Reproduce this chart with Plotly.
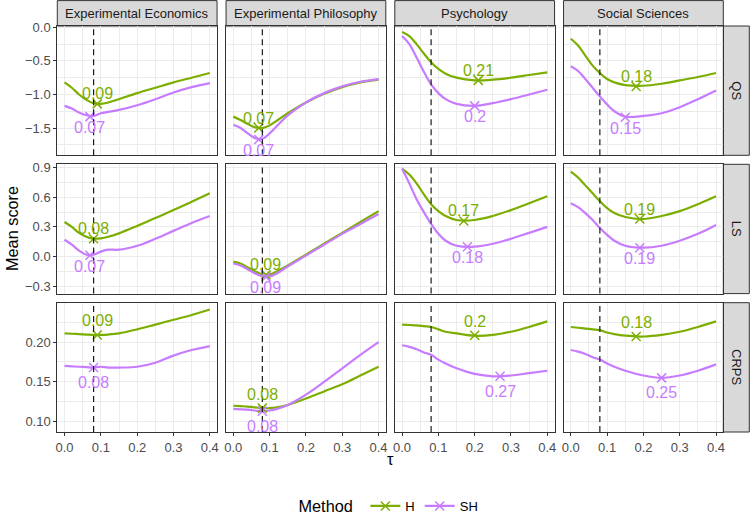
import plotly.graph_objects as go

# ---------------- data ----------------
FIELDS = ["Experimental Economics", "Experimental Philosophy", "Psychology", "Social Sciences"]
SCORES = ["QS", "LS", "CRPS"]
METHODS = ["H", "SH"]
COLORS = {"H": "#7CAE00", "SH": "#C77CFF"}
TAU = [0.0, 0.02, 0.04, 0.06, 0.08, 0.10, 0.12, 0.15, 0.20, 0.25, 0.30, 0.35, 0.40]
TAU_REF = 0.08

# QS (rows: fields)
QS_EE_H = [-0.82, -0.90, -1.00, -1.08, -1.13, -1.14, -1.12, -1.07, -0.98, -0.90, -0.82, -0.75, -0.68]
QS_EE_SH = [-1.17, -1.21, -1.27, -1.31, -1.32, -1.28, -1.26, -1.23, -1.16, -1.07, -0.97, -0.89, -0.83]
QS_EP_H = [-1.33, -1.38, -1.44, -1.49, -1.50, -1.46, -1.39, -1.28, -1.12, -0.99, -0.89, -0.82, -0.78]
QS_EP_SH = [-1.45, -1.50, -1.58, -1.65, -1.66, -1.58, -1.47, -1.31, -1.12, -0.98, -0.88, -0.81, -0.77]
QS_PS_H = [-0.07, -0.13, -0.25, -0.39, -0.52, -0.62, -0.69, -0.75, -0.79, -0.78, -0.75, -0.71, -0.67]
QS_PS_SH = [-0.13, -0.25, -0.45, -0.66, -0.85, -0.98, -1.07, -1.14, -1.17, -1.13, -1.07, -1.00, -0.93]
QS_SS_H = [-0.17, -0.27, -0.42, -0.57, -0.68, -0.77, -0.82, -0.86, -0.87, -0.84, -0.79, -0.74, -0.68]
QS_SS_SH = [-0.58, -0.65, -0.77, -0.90, -1.03, -1.15, -1.25, -1.33, -1.32, -1.28, -1.19, -1.07, -0.94]

# LS
LS_EE_H = [0.35, 0.30, 0.24, 0.20, 0.18, 0.185, 0.20, 0.235, 0.31, 0.39, 0.47, 0.555, 0.64]
LS_EE_SH = [0.17, 0.12, 0.06, 0.02, 0.02, 0.05, 0.07, 0.07, 0.11, 0.18, 0.26, 0.34, 0.41]
LS_EP_H = [-0.05, -0.07, -0.11, -0.15, -0.18, -0.18, -0.15, -0.09, 0.02, 0.13, 0.24, 0.35, 0.46]
LS_EP_SH = [-0.07, -0.09, -0.13, -0.17, -0.20, -0.20, -0.17, -0.10, 0.01, 0.12, 0.23, 0.33, 0.43]
LS_PS_H = [0.89, 0.83, 0.74, 0.63, 0.53, 0.46, 0.41, 0.37, 0.37, 0.41, 0.47, 0.54, 0.61]
LS_PS_SH = [0.89, 0.74, 0.58, 0.45, 0.33, 0.23, 0.16, 0.11, 0.10, 0.13, 0.18, 0.24, 0.30]
LS_SS_H = [0.86, 0.80, 0.72, 0.64, 0.56, 0.49, 0.44, 0.40, 0.38, 0.41, 0.46, 0.53, 0.61]
LS_SS_SH = [0.54, 0.50, 0.44, 0.37, 0.29, 0.22, 0.16, 0.11, 0.09, 0.11, 0.16, 0.23, 0.32]

# CRPS
CRPS_EE_H = [0.211, 0.2105, 0.210, 0.2095, 0.209, 0.209, 0.2095, 0.211, 0.216, 0.222, 0.228, 0.234, 0.241]
CRPS_EE_SH = [0.170, 0.1695, 0.169, 0.1685, 0.168, 0.169, 0.168, 0.168, 0.169, 0.174, 0.183, 0.190, 0.195]
CRPS_EP_H = [0.120, 0.1195, 0.119, 0.118, 0.117, 0.117, 0.118, 0.121, 0.129, 0.138, 0.147, 0.158, 0.169]
CRPS_EP_SH = [0.116, 0.1155, 0.115, 0.114, 0.113, 0.114, 0.116, 0.121, 0.134, 0.150, 0.167, 0.184, 0.200]
CRPS_PS_H = [0.222, 0.2215, 0.221, 0.220, 0.219, 0.216, 0.213, 0.211, 0.208, 0.209, 0.213, 0.219, 0.226]
CRPS_PS_SH = [0.196, 0.194, 0.191, 0.187, 0.184, 0.178, 0.173, 0.167, 0.160, 0.157, 0.158, 0.161, 0.164]
CRPS_SS_H = [0.219, 0.218, 0.217, 0.216, 0.215, 0.212, 0.210, 0.208, 0.207, 0.209, 0.213, 0.219, 0.226]
CRPS_SS_SH = [0.190, 0.188, 0.185, 0.181, 0.178, 0.173, 0.169, 0.164, 0.158, 0.155, 0.158, 0.164, 0.172]

# minimising tau and the score there (per field, in FIELDS order)
QS_MIN_TAU_H = [0.09, 0.07, 0.21, 0.18]
QS_MIN_VAL_H = [-1.14, -1.50, -0.79, -0.88]
QS_MIN_TAU_SH = [0.07, 0.07, 0.20, 0.15]
QS_MIN_VAL_SH = [-1.33, -1.67, -1.17, -1.34]
LS_MIN_TAU_H = [0.08, 0.09, 0.17, 0.19]
LS_MIN_VAL_H = [0.18, -0.185, 0.36, 0.38]
LS_MIN_TAU_SH = [0.07, 0.09, 0.18, 0.19]
LS_MIN_VAL_SH = [0.013, -0.205, 0.10, 0.09]
CRPS_MIN_TAU_H = [0.09, 0.08, 0.20, 0.18]
CRPS_MIN_VAL_H = [0.209, 0.117, 0.2085, 0.207]
CRPS_MIN_TAU_SH = [0.08, 0.08, 0.27, 0.25]
CRPS_MIN_VAL_SH = [0.168, 0.113, 0.157, 0.155]

X_TICKS = [0.0, 0.1, 0.2, 0.3, 0.4]
X_TICKTEXT = ["0.0", "0.1", "0.2", "0.3", "0.4"]
Y_TICKS = {
    "QS": [0.0, -0.5, -1.0, -1.5],
    "LS": [0.9, 0.6, 0.3, 0.0, -0.3],
    "CRPS": [0.10, 0.15, 0.20],
}
Y_TICKTEXT = {
    "QS": ["0.0", "\u22120.5", "\u22121.0", "\u22121.5"],
    "LS": ["0.9", "0.6", "0.3", "0.0", "\u22120.3"],
    "CRPS": ["0.10", "0.15", "0.20"],
}

SERIES = {
    ("QS", 0, "H"): QS_EE_H, ("QS", 0, "SH"): QS_EE_SH,
    ("QS", 1, "H"): QS_EP_H, ("QS", 1, "SH"): QS_EP_SH,
    ("QS", 2, "H"): QS_PS_H, ("QS", 2, "SH"): QS_PS_SH,
    ("QS", 3, "H"): QS_SS_H, ("QS", 3, "SH"): QS_SS_SH,
    ("LS", 0, "H"): LS_EE_H, ("LS", 0, "SH"): LS_EE_SH,
    ("LS", 1, "H"): LS_EP_H, ("LS", 1, "SH"): LS_EP_SH,
    ("LS", 2, "H"): LS_PS_H, ("LS", 2, "SH"): LS_PS_SH,
    ("LS", 3, "H"): LS_SS_H, ("LS", 3, "SH"): LS_SS_SH,
    ("CRPS", 0, "H"): CRPS_EE_H, ("CRPS", 0, "SH"): CRPS_EE_SH,
    ("CRPS", 1, "H"): CRPS_EP_H, ("CRPS", 1, "SH"): CRPS_EP_SH,
    ("CRPS", 2, "H"): CRPS_PS_H, ("CRPS", 2, "SH"): CRPS_PS_SH,
    ("CRPS", 3, "H"): CRPS_SS_H, ("CRPS", 3, "SH"): CRPS_SS_SH,
}
MINS = {
    ("QS", "H"): (QS_MIN_TAU_H, QS_MIN_VAL_H), ("QS", "SH"): (QS_MIN_TAU_SH, QS_MIN_VAL_SH),
    ("LS", "H"): (LS_MIN_TAU_H, LS_MIN_VAL_H), ("LS", "SH"): (LS_MIN_TAU_SH, LS_MIN_VAL_SH),
    ("CRPS", "H"): (CRPS_MIN_TAU_H, CRPS_MIN_VAL_H), ("CRPS", "SH"): (CRPS_MIN_TAU_SH, CRPS_MIN_VAL_SH),
}

# ---------------- layout geometry ----------------
W, H = 750, 516
FONT = "Liberation Sans, Arial, Helvetica, sans-serif"
COL_L = [57.3, 226.05, 394.8, 563.55]
COL_W = 159.75
ROW_T = [26.0, 164.3, 302.7]
ROW_H = 129.3
STRIP_R = (723.3, 749.3)
Y_RANGE = {"QS": [-1.906, 0.02], "LS": [-0.374, 0.933], "CRPS": [0.087, 0.2495]}
Y_MINOR = {"QS": 0.25, "LS": 0.15, "CRPS": 0.025}
LABEL_SHIFT = {"QS": (10, -11), "LS": (10, -11), "CRPS": (14, -15)}

fx = lambda p: p / W
fy = lambda p: 1 - p / H

fig = go.Figure()
layout = dict(
    template="none",
    width=W, height=H, autosize=False,
    margin=dict(l=0, r=0, t=0, b=0, pad=0, autoexpand=False),
    paper_bgcolor="white", plot_bgcolor="white",
    font=dict(family=FONT, size=13, color="#1A1A1A"),
    showlegend=True,
)
shapes, annotations = [], []

for r, score in enumerate(SCORES):
    for c, field in enumerate(FIELDS):
        i = r * 4 + c + 1
        xs = "" if i == 1 else str(i)
        xa, ya = "x" + xs, "y" + xs
        layout["xaxis" + xs] = dict(
            domain=[fx(COL_L[c]), fx(COL_L[c] + COL_W)],
            anchor=ya, range=[-0.02, 0.42], automargin=False,
            tickvals=X_TICKS, ticktext=X_TICKTEXT,
            showticklabels=(r == 2), ticks="outside" if r == 2 else "",
            ticklen=3, tickwidth=1, tickcolor="#333333",
            tickfont=dict(size=13, color="#4D4D4D"),
            showgrid=True, gridcolor="#EBEBEB", gridwidth=1.1,
            minor=dict(dtick=0.05, tick0=0, showgrid=True, gridcolor="#EBEBEB", gridwidth=0.55, ticks=""),
            showline=True, linecolor="#333333", linewidth=1, mirror=True,
            zeroline=False,
        )
        layout["yaxis" + xs] = dict(
            domain=[fy(ROW_T[r] + ROW_H), fy(ROW_T[r])],
            anchor=xa, range=Y_RANGE[score], automargin=False,
            tickvals=Y_TICKS[score], ticktext=Y_TICKTEXT[score],
            showticklabels=(c == 0), ticks="outside" if c == 0 else "",
            ticklen=3, tickwidth=1, tickcolor="#333333",
            tickfont=dict(size=13, color="#4D4D4D"),
            showgrid=True, gridcolor="#EBEBEB", gridwidth=1.1,
            minor=dict(dtick=Y_MINOR[score], tick0=0, showgrid=True, gridcolor="#EBEBEB", gridwidth=0.55, ticks=""),
            showline=True, linecolor="#333333", linewidth=1, mirror=True,
            zeroline=False,
        )
        for m in METHODS:
            fig.add_trace(go.Scatter(
                x=TAU, y=SERIES[(score, c, m)], xaxis=xa, yaxis=ya,
                mode="lines", line=dict(color=COLORS[m], width=2.2, shape="spline", smoothing=1.0),
                showlegend=False, hoverinfo="skip",
            ))
        shapes.append(dict(type="line", xref=xa, yref=ya + " domain", x0=TAU_REF, x1=TAU_REF, y0=0, y1=1,
                           line=dict(color="#1A1A1A", width=1.2, dash="6px,4px")))
        for m in METHODS:
            taus, vals = MINS[(score, m)]
            fig.add_trace(go.Scatter(
                x=[taus[c]], y=[vals[c]], xaxis=xa, yaxis=ya, mode="markers",
                marker=dict(symbol="x-thin", size=9, color=COLORS[m], line=dict(color=COLORS[m], width=1.5)),
                showlegend=False, hoverinfo="skip",
            ))
            shift = LABEL_SHIFT[score][0 if m == "H" else 1]
            annotations.append(dict(
                x=taus[c], y=vals[c], xref=xa, yref=ya, text=f"{taus[c]:g}", showarrow=False,
                xanchor="center", yanchor="middle",
                yshift=shift, font=dict(size=16, color=COLORS[m], family=FONT),
            ))

# strips
for c, field in enumerate(FIELDS):
    shapes.append(dict(type="rect", xref="paper", yref="paper",
                       x0=fx(COL_L[c]), x1=fx(COL_L[c] + COL_W), y0=fy(26.0), y1=fy(0.6),
                       fillcolor="#D9D9D9", line=dict(color="#333333", width=1), layer="below"))
    annotations.append(dict(x=fx(COL_L[c] + COL_W / 2), y=fy(13.3), xref="paper", yref="paper",
                            xanchor="center", yanchor="middle",
                            text=field, showarrow=False, font=dict(size=13, color="#1A1A1A")))
for r, score in enumerate(SCORES):
    shapes.append(dict(type="rect", xref="paper", yref="paper",
                       x0=fx(STRIP_R[0]), x1=fx(STRIP_R[1]), y0=fy(ROW_T[r] + ROW_H), y1=fy(ROW_T[r]),
                       fillcolor="#D9D9D9", line=dict(color="#333333", width=1), layer="below"))
    annotations.append(dict(x=fx((STRIP_R[0] + STRIP_R[1]) / 2), y=fy(ROW_T[r] + ROW_H / 2),
                            xref="paper", yref="paper", text=score, textangle=90, showarrow=False,
                            xanchor="center", yanchor="middle",
                            font=dict(size=13, color="#1A1A1A")))

# axis titles
annotations.append(dict(x=fx(12), y=fy(229), xref="paper", yref="paper", text="Mean score",
                        xanchor="center", yanchor="middle",
                        textangle=-90, showarrow=False, font=dict(size=16.3, color="black")))
annotations.append(dict(x=fx(390.3), y=fy(459), xref="paper", yref="paper", text="\u03c4",
                        xanchor="center", yanchor="middle",
                        showarrow=False, font=dict(size=16.3, color="black")))

# legend entries
for m in METHODS:
    fig.add_trace(go.Scatter(
        x=[None], y=[None], mode="lines+markers", name=m,
        line=dict(color=COLORS[m], width=2.2),
        marker=dict(symbol="x-thin", size=9, color=COLORS[m], line=dict(color=COLORS[m], width=1.5)),
        showlegend=True,
    ))

layout["legend"] = dict(
    orientation="h",
    x=fx(390), xanchor="center", y=fy(507), yanchor="middle",
    title=dict(text="Method ", font=dict(size=16.3, color="black"), side="left"),
    font=dict(size=13, color="black"), bgcolor="rgba(0,0,0,0)",
    itemwidth=30, tracegroupgap=0,
)
layout["shapes"] = shapes
layout["annotations"] = annotations
fig.update_layout(**layout)
# the page's default 8px body margin would shift the figure; remove it
fig.write_html(
    "out.html",
    config={"displayModeBar": False},
    post_script="document.body.style.margin='0px';document.body.style.overflow='hidden';",
)
